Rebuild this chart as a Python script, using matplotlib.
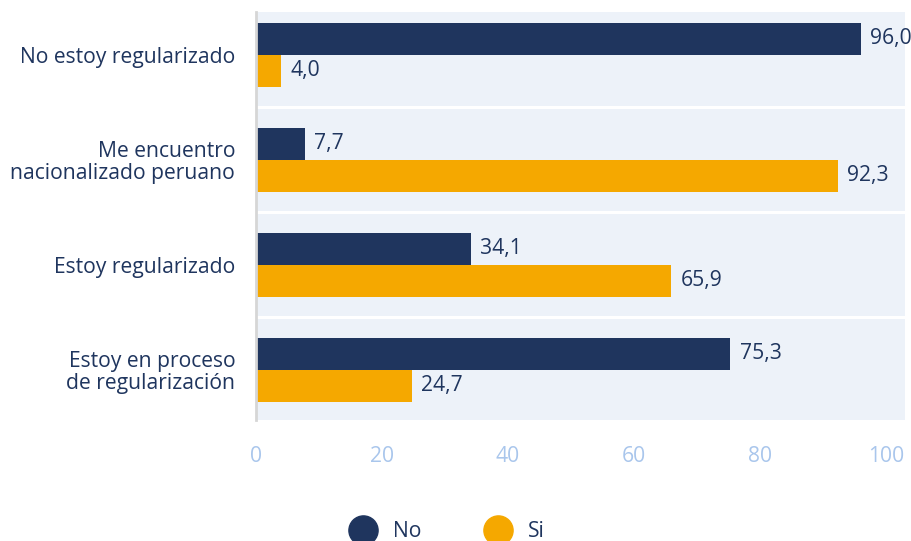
import numpy as np
import matplotlib.pyplot as plt
from matplotlib.lines import Line2D

# Estado migratorio: porcentaje que respondió "No" / "Si"
categorias = [
    "No estoy regularizado",
    "Me encuentro\nnacionalizado peruano",
    "Estoy regularizado",
    "Estoy en proceso\nde regularización",
]
valores_no = [96.0, 7.7, 34.1, 75.3]
valores_si = [4.0, 92.3, 65.9, 24.7]
ticks_x = [0, 20, 40, 60, 80, 100]

NAVY = "#1F355E"
ORANGE = "#F5A800"
BAND = "#EDF2F9"
TICK = "#A9C6EC"
FS = 15.2

plt.rcParams["font.family"] = ["Open Sans", "DejaVu Sans"]

fig = plt.figure(figsize=(9.12, 5.41), dpi=100)
ax = fig.add_axes([0.2807, 0.2237, 0.7116, 0.7542])

y = np.arange(len(categorias))
h = 0.305

# franjas de fondo por grupo
for i in y:
    ax.axhspan(i - 0.485, i + 0.485, color=BAND, lw=0, zorder=0)

ax.barh(y - h / 2, valores_no, height=h, color=NAVY, zorder=2)
ax.barh(y + h / 2, valores_si, height=h, color=ORANGE, zorder=2)

for yi, v in zip(y - h / 2, valores_no):
    ax.text(v + 1.5, yi, f"{v:.1f}".replace(".", ","), va="center", ha="left",
            fontsize=FS, color=NAVY, clip_on=False, zorder=3)
for yi, v in zip(y + h / 2, valores_si):
    ax.text(v + 1.5, yi, f"{v:.1f}".replace(".", ","), va="center", ha="left",
            fontsize=FS, color=NAVY, clip_on=False, zorder=3)

ax.set_xlim(0, 103)
ax.set_ylim(3.48, -0.41)
ax.set_xticks(ticks_x)
ax.set_xticklabels([str(t) for t in ticks_x], fontsize=FS, color=TICK)
ax.set_yticks(y)
ax.set_yticklabels(categorias, fontsize=FS, color=NAVY, linespacing=1.05)
ax.tick_params(axis="x", length=0, pad=19)
ax.tick_params(axis="y", length=0, pad=15)
for s in ["top", "right", "bottom"]:
    ax.spines[s].set_visible(False)
ax.spines["left"].set_color("#D6D6D6")
ax.spines["left"].set_linewidth(2)
ax.set_facecolor("white")

handles = [
    Line2D([], [], marker="o", ls="", markersize=21, color=NAVY),
    Line2D([], [], marker="o", ls="", markersize=21, color=ORANGE),
]
fig.legend(handles, ["No", "Si"], loc="center", bbox_to_anchor=(0.486, 0.017),
           ncol=2, frameon=False, fontsize=FS, labelcolor=NAVY,
           handletextpad=0.45, columnspacing=2.6, borderpad=0)

fig.savefig("out.png", dpi=100)
